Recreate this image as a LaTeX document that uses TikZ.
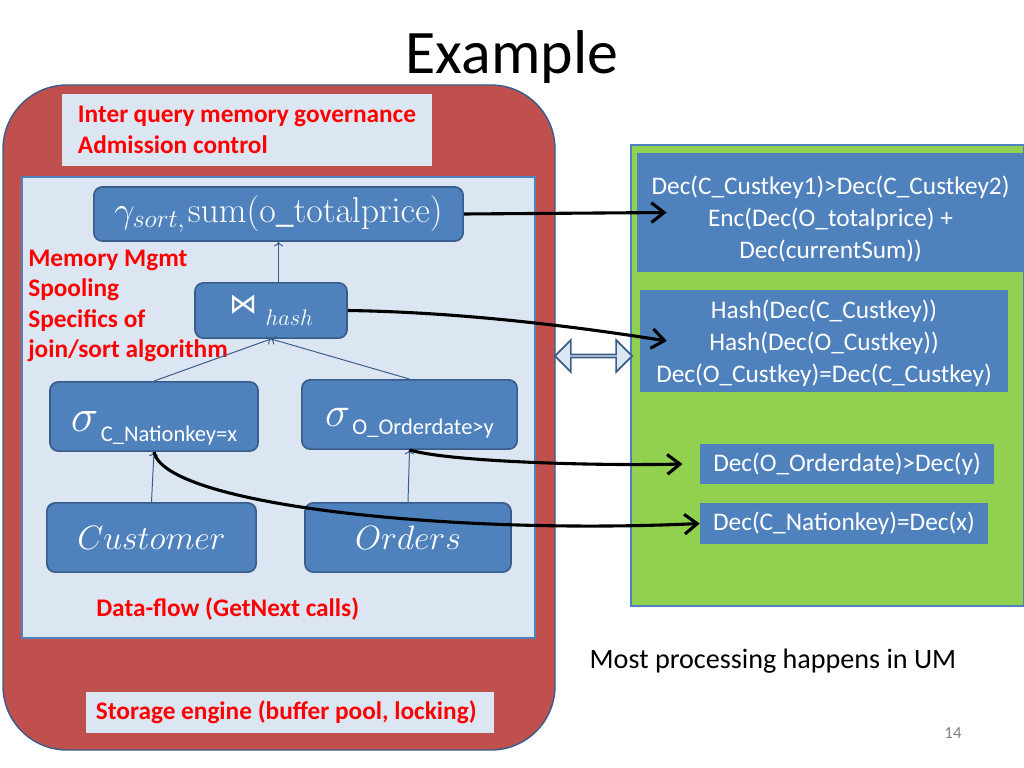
\RequirePackage{fix-cm}
\documentclass[tikz,border=0pt]{standalone}
\usepackage{amsmath}
\usepackage{amssymb}
\usepackage[no-math]{fontspec}
\setmainfont{Carlito}
\newfontfamily\relfont{DejaVu Sans}
\usetikzlibrary{arrows.meta,shapes.arrows}

\definecolor{engred}{HTML}{C0504D}
\definecolor{paleblue}{HTML}{DCE6F2}
\definecolor{opblue}{HTML}{4F81BD}
\definecolor{edgeblue}{HTML}{385D8A}
\definecolor{umgreen}{HTML}{92D050}

\begin{document}
\begin{tikzpicture}[
    x=0.025cm, y=-0.025cm,
    op/.style={rounded corners=6pt, draw=edgeblue, line width=1.2pt, fill=opblue, text=white, inner sep=0pt},
    enc/.style={fill=opblue, text=white, inner sep=0pt, align=center, font=\fontsize{18}{22.7}\selectfont},
    note/.style={text=red, font=\bfseries\fontsize{18}{21.5}\selectfont, align=flush left, inner sep=0pt},
    flow/.style={draw=edgeblue, line width=0.7pt, ->},
    call/.style={line width=2.2pt, -{Straight Barb[length=9pt,width=14pt]}}
]
\useasboundingbox (0,0) rectangle (1024,768);

% engine and UM areas
\filldraw[fill=engred, draw=edgeblue, line width=1pt, rounded corners=1.6cm] (3,85) rectangle (555,750);
\filldraw[fill=paleblue, draw=opblue, line width=1.5pt] (22,177) rectangle (535,638);
\filldraw[fill=umgreen, draw=opblue, line width=0.8pt] (631,145) rectangle (1024,606);

\node (title) at (512,57) {\fontsize{44}{48}\selectfont Example};

\node[note, fill=paleblue, minimum width=9.25cm, minimum height=1.8cm, text width=8.45cm, inner xsep=0.4cm] (govern) at (247,130)
    {Inter query memory governance\\Admission control};
\node[note, anchor=west] (mem) at (28,306) {Memory Mgmt\\Spooling\\Specifics of\\join/sort algorithm};
\node[note, anchor=west] (flowlbl) at (96,609) {Data-flow (GetNext calls)};
\node[note, fill=paleblue, minimum width=10.2cm, minimum height=1.03cm, text width=9.7cm, inner xsep=0.25cm] (storage) at (290,712.5)
    {Storage engine (buffer pool, locking)};

% operator tree
\node[op, minimum width=9.23cm, minimum height=1.35cm] (agg) at (278.5,214)
    {{\fontsize{26}{30}\selectfont$\gamma_{sort,}$}\,{\fontsize{25.5}{30}\selectfont$\mathrm{sum(o\_totalprice)}$}};
\node[op, minimum width=3.8cm, minimum height=1.38cm] (join) at (271,310.5)
    {\raisebox{0.6ex}{\relfont\fontsize{20}{22}\selectfont ⋈}\hspace{6pt}{\fontsize{16}{20}\selectfont\raisebox{-0.7ex}{$hash$}}\hspace{0.68cm}};
\node[op, minimum width=5.2cm, minimum height=1.73cm] (selc) at (154,416.5)
    {\raisebox{-18pt}[0pt][0pt]{\raisebox{7pt}{\fontsize{33}{33}\selectfont$\sigma$}\,{\fontsize{16}{19}\selectfont C\_Nationkey=x}}};
\node[op, minimum width=5.38cm, minimum height=1.73cm] (selo) at (409.5,414.5)
    {\raisebox{-14.5pt}[0pt][0pt]{\raisebox{6pt}{\fontsize{30}{30}\selectfont$\sigma$}\,{\fontsize{16}{19}\selectfont O\_Orderdate>y}}};
\node[op, minimum width=5.23cm, minimum height=1.73cm] (cust) at (151.5,537.5)
    {\fontsize{24}{28}\selectfont $Customer$};
\node[op, minimum width=5.15cm, minimum height=1.73cm] (ord) at (408,537.5)
    {\fontsize{24}{28}\selectfont $Orders$};

\draw[flow] (agg.south |- join.north) -- (agg.south);
\draw[flow] (selc.north) -- (join.south);
\draw[flow] (selo.north) -- (join.south);
\draw[flow] (cust.north) -- (selc.south);
\draw[flow] (ord.north) -- (selo.south);

% encrypted computations in UM
\node[enc, minimum width=9.68cm, minimum height=2.98cm] (box1) at (830.5,212.5)
    {\rule{0pt}{23pt}Dec(C\_Custkey1)>Dec(C\_Custkey2)\\Enc(Dec(O\_totalprice) +\\Dec(currentSum))};
\node[enc, minimum width=9.2cm, minimum height=2.55cm] (box2) at (824,341)
    {\rule{0pt}{16pt}Hash(Dec(C\_Custkey))\\Hash(Dec(O\_Custkey))\\Dec(O\_Custkey)=Dec(C\_Custkey)};
\node[enc, minimum width=7.35cm, minimum height=1.0cm] (box3) at (847,464) {Dec(O\_Orderdate)>Dec(y)};
\node[enc, minimum width=7.2cm, minimum height=1.03cm] (box4) at (844,523.5) {Dec(C\_Nationkey)=Dec(x)};

\node[double arrow, fill=paleblue, draw=edgeblue, line width=1.2pt, inner sep=0pt,
    minimum height=1.93cm, minimum width=0.8cm, double arrow head extend=0.2cm] (ipc) at (593.5,356) {};

\draw[call] (agg.east) -- ([xshift=0.75cm]box1.west);
\draw[call] (join.east) .. controls (450,312) and (560,324) .. ([xshift=0.68cm]box2.west);
\draw[call] (selo.south) .. controls (450,462) and (600,466) .. ([xshift=-0.43cm]box3.west);
\draw[call] (selc.south) .. controls (165,505) and (450,535) .. (box4.west);

\node (umnote) at (773,661) {\fontsize{20}{24}\selectfont Most processing happens in UM};
\node[text=gray] (pageno) at (953,733) {\fontsize{12}{14}\selectfont 14};
\end{tikzpicture}
\end{document}
